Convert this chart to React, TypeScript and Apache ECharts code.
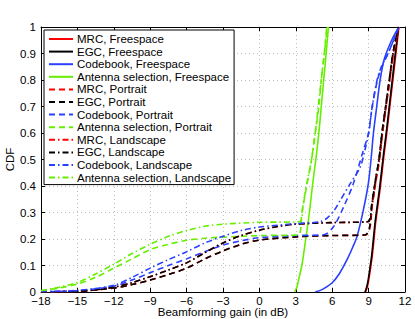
import React, { useEffect, useRef } from "react";
import * as echarts from "echarts";

const xTicks = [-18, -15, -12, -9, -6, -3, 0, 3, 6, 9, 12];

const mrcFree: number[][] = [[8.75,0],[8.9,0.02],[9.03,0.05],[9.31,0.14],[9.59,0.265],[9.95,0.39],[10.27,0.517],[10.5,0.6],[10.75,0.7],[11.0,0.8],[11.25,0.9],[11.5,1]];
const egcFree: number[][] = [[8.7,0],[8.85,0.02],[8.98,0.05],[9.26,0.14],[9.54,0.265],[9.9,0.39],[10.22,0.517],[10.45,0.6],[10.7,0.7],[10.95,0.8],[11.2,0.9],[11.46,1]];
const cbFree: number[][] = [[4.6,0],[5.2,0.01],[6.0,0.035],[6.6,0.07],[7.2,0.12],[7.7,0.17],[8.05,0.21],[8.57,0.31],[8.98,0.41],[9.2,0.5],[9.4,0.6],[9.67,0.7],[9.95,0.8],[10.3,0.88],[10.9,0.95],[11.5,1]];
const asFree: number[][] = [[2.9,0],[3.1,0.02],[3.3,0.06],[3.5,0.1],[3.82,0.2],[4.12,0.3],[4.37,0.4],[4.65,0.5],[4.9,0.6],[5.1,0.7],[5.3,0.8],[5.5,0.9],[5.69,1]];

const mrcPort: number[][] = [[-18,0],[-15,0.003],[-12,0.015],[-10.5,0.028],[-9,0.045],[-7.5,0.066],[-6,0.09],[-4.5,0.125],[-3,0.155],[-1.5,0.18],[0,0.196],[3,0.208],[6,0.213],[8.75,0.215],[9.1,0.24],[9.31,0.33],[9.6,0.416],[9.9,0.5],[10.15,0.6],[10.45,0.7],[10.75,0.8],[11.05,0.9],[11.47,1]];
const egcPort: number[][] = [[-18,0],[-15,0.003],[-12,0.015],[-10.5,0.028],[-9,0.045],[-7.5,0.066],[-6,0.09],[-4.5,0.125],[-3,0.155],[-1.5,0.18],[0,0.196],[3,0.208],[6,0.213],[8.7,0.215],[9.06,0.24],[9.26,0.33],[9.54,0.416],[9.85,0.5],[10.1,0.6],[10.4,0.7],[10.7,0.8],[11.0,0.9],[11.45,1]];
const cbPort: number[][] = [[-18,0.001],[-15,0.005],[-12,0.022],[-10.5,0.045],[-9,0.073],[-7.5,0.1],[-6,0.125],[-4.5,0.152],[-3,0.177],[-1.5,0.193],[0,0.205],[3,0.213],[5.3,0.216],[6.1,0.246],[6.93,0.32],[7.75,0.41],[8.57,0.535],[9.0,0.6],[9.3,0.7],[9.73,0.8],[10.09,0.85],[10.6,0.9],[11.5,1]];
const asPort: number[][] = [[-18,0.005],[-16.5,0.015],[-15,0.03],[-13.5,0.055],[-12,0.09],[-10.5,0.125],[-9,0.16],[-7.5,0.18],[-6,0.195],[-4.5,0.203],[-3,0.207],[0,0.213],[3.2,0.215],[3.5,0.3],[3.9,0.4],[4.3,0.5],[4.6,0.6],[4.9,0.7],[5.1,0.8],[5.35,0.9],[5.55,1]];

const mrcLand: number[][] = [[-18,0],[-15,0.003],[-13.5,0.008],[-12,0.018],[-10.5,0.035],[-9,0.058],[-7.5,0.083],[-6,0.11],[-4.5,0.148],[-3,0.185],[-1.5,0.213],[0,0.233],[1.5,0.247],[3,0.256],[6,0.262],[8.95,0.265],[9.31,0.33],[9.59,0.416],[9.9,0.5],[10.15,0.6],[10.45,0.7],[10.75,0.8],[11.05,0.9],[11.47,1]];
const egcLand: number[][] = [[-18,0],[-15,0.003],[-13.5,0.008],[-12,0.018],[-10.5,0.035],[-9,0.058],[-7.5,0.083],[-6,0.11],[-4.5,0.148],[-3,0.185],[-1.5,0.213],[0,0.233],[1.5,0.247],[3,0.256],[6,0.262],[8.9,0.265],[9.26,0.33],[9.54,0.416],[9.85,0.5],[10.1,0.6],[10.4,0.7],[10.7,0.8],[11.0,0.9],[11.45,1]];
const cbLand: number[][] = [[-18,0.002],[-15,0.006],[-12,0.025],[-10.5,0.055],[-9,0.09],[-7.5,0.122],[-6,0.152],[-4.5,0.185],[-3,0.21],[-1.5,0.232],[0,0.245],[3,0.258],[5.0,0.265],[5.6,0.28],[6.2,0.31],[6.65,0.345],[7.5,0.41],[8.3,0.47],[8.7,0.536],[9.0,0.6],[9.3,0.7],[9.7,0.8],[10.05,0.85],[10.6,0.9],[11.5,1]];
const asLand: number[][] = [[-18,0.005],[-16.5,0.018],[-15,0.036],[-13.5,0.068],[-12,0.105],[-10.5,0.145],[-9,0.18],[-7.5,0.21],[-6,0.232],[-4.5,0.248],[-3,0.256],[0,0.263],[3.3,0.265],[3.6,0.33],[3.95,0.42],[4.3,0.5],[4.6,0.6],[4.85,0.7],[5.1,0.8],[5.35,0.9],[5.6,1]];

const RED = "#ff0000";
const BLACK = "#000000";
const BLUE = "#2a40ff";
const GREEN = "#66ee00";
const DASH = [6, 4];
const DASHDOT = [6, 3, 1.5, 3];

const seriesDefs: { name: string; data: number[][]; color: string; type: any }[] = [
  { name: "MRC, Freespace", data: mrcFree, color: RED, type: "solid" },
  { name: "EGC, Freespace", data: egcFree, color: BLACK, type: "solid" },
  { name: "Codebook, Freespace", data: cbFree, color: BLUE, type: "solid" },
  { name: "Antenna selection, Freespace", data: asFree, color: GREEN, type: "solid" },
  { name: "MRC, Portrait", data: mrcPort, color: RED, type: DASH },
  { name: "EGC, Portrait", data: egcPort, color: BLACK, type: DASH },
  { name: "Codebook, Portrait", data: cbPort, color: BLUE, type: DASH },
  { name: "Antenna selection, Portrait", data: asPort, color: GREEN, type: DASH },
  { name: "MRC, Landscape", data: mrcLand, color: RED, type: DASHDOT },
  { name: "EGC, Landscape", data: egcLand, color: BLACK, type: DASHDOT },
  { name: "Codebook, Landscape", data: cbLand, color: BLUE, type: DASHDOT },
  { name: "Antenna selection, Landscape", data: asLand, color: GREEN, type: DASHDOT },
];

const FONT = "'Liberation Sans', Arial, sans-serif";
const FS = 11.5;

export default function App() {
  const ref = useRef<HTMLDivElement>(null);
  useEffect(() => {
    if (!ref.current) return;
    const chart = echarts.init(ref.current, undefined, { renderer: "svg" });
    const tickCommon = { show: true, inside: true, length: 4, lineStyle: { color: "#000", width: 1 } };
    const axisLineCommon = { show: true, onZero: false, lineStyle: { color: "#000", width: 1 } };
    chart.setOption({
      animation: false,
      backgroundColor: "#fff",
      textStyle: { fontFamily: FONT },
      grid: { left: 41, right: 10, top: 27, bottom: 27, show: false, containLabel: false, outerBoundsMode: "none" },
      legend: {
        orient: "vertical",
        left: 44,
        top: 30,
        itemWidth: 24,
        itemHeight: 12,
        itemGap: 0.6,
        padding: [3, 3, 1, 4],
        backgroundColor: "#fff",
        borderColor: "#000",
        borderWidth: 1,
        borderRadius: 0,
        itemStyle: { opacity: 0 },
        textStyle: { fontFamily: FONT, fontSize: FS, lineHeight: 12, color: "#000", padding: [0, 0, 0, -1] },
        data: seriesDefs.map((s) => s.name),
      },
      xAxis: [
        {
          type: "value", min: -18, max: 12, interval: 3, position: "bottom",
          name: "Beamforming gain (in dB)", nameLocation: "middle", nameGap: 14, nameMoveOverlap: false,
          nameTextStyle: { fontFamily: FONT, fontSize: FS, color: "#000" },
          axisLine: axisLineCommon,
          axisTick: tickCommon,
          axisLabel: { fontFamily: FONT, fontSize: FS, color: "#000", margin: 3, formatter: (v: number) => (v < 0 ? "\u2212" + Math.abs(v) : String(v)) },
          splitLine: { show: true, lineStyle: { color: "#bdbdbd", type: [1, 3], width: 1 } },
        },
        {
          type: "value", min: -18, max: 12, interval: 3, position: "top",
          axisLine: axisLineCommon,
          axisTick: tickCommon, axisLabel: { show: false }, splitLine: { show: false },
        },
      ],
      yAxis: [
        {
          type: "value", min: 0, max: 1, interval: 0.1, position: "left",
          name: "CDF", nameLocation: "middle", nameGap: 25, nameMoveOverlap: false,
          nameTextStyle: { fontFamily: FONT, fontSize: FS, color: "#000" },
          axisLine: axisLineCommon,
          axisTick: tickCommon,
          axisLabel: { fontFamily: FONT, fontSize: FS, color: "#000", margin: 5, formatter: (v: number) => String(Math.round(v * 10) / 10) },
          splitLine: { show: true, lineStyle: { color: "#bdbdbd", type: [1, 3], width: 1 } },
        },
        {
          type: "value", min: 0, max: 1, interval: 0.1, position: "right",
          axisLine: axisLineCommon,
          axisTick: tickCommon, axisLabel: { show: false }, splitLine: { show: false },
        },
      ],
      series: seriesDefs.map((s) => ({
        name: s.name,
        type: "line",
        data: s.data,
        xAxisIndex: 0,
        yAxisIndex: 0,
        showSymbol: false,
        symbol: "none",
        smooth: 0.3,
        clip: true,
        color: s.color,
        lineStyle: { color: s.color, width: 1.6, type: s.type },
      })),
    });
    return () => chart.dispose();
  }, []);
  return <div ref={ref} style={{ position: "absolute", left: 0, top: 0, width: 415, height: 319 }} />;
}
